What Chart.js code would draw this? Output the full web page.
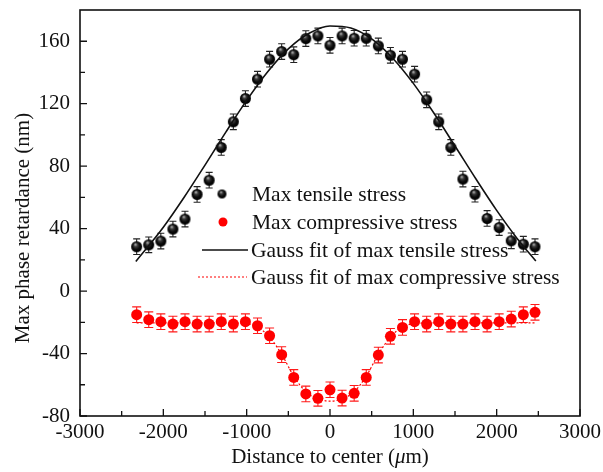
<!DOCTYPE html>
<html><head><meta charset="utf-8">
<script src="https://cdn.jsdelivr.net/npm/chart.js@4"></script>
<style>html,body{margin:0;padding:0;background:#fff}#wrap{width:603px;height:472px}</style>
</head><body><div id="wrap"><canvas id="c" width="603" height="472"></canvas></div>
<script>
// ---- data ----
const xPos = [-2320,-2175,-2030,-1885,-1740,-1595,-1450,-1305,-1160,-1015,-870,-725,-580,-435,-290,-145,0,145,290,435,580,725,870,1015,1160,1305,1450,1595,1740,1885,2030,2175,2320,2460];
const tensile = [28.4,29.6,32.0,39.7,46.1,61.9,71.0,92.0,108.4,123.3,135.7,148.5,153.4,151.4,161.7,163.4,157.4,163.4,161.9,161.9,157.0,151.0,148.5,138.9,122.5,108.4,92.0,71.7,62.0,46.5,40.7,32.2,30.0,28.4];
const compressive = [-15.1,-18.3,-19.6,-21.1,-19.6,-21.1,-21.1,-19.6,-21.1,-19.6,-22.2,-28.6,-40.7,-55.3,-65.9,-68.7,-63.2,-68.5,-65.5,-55.3,-41.0,-29.0,-23.3,-19.6,-21.1,-19.6,-21.1,-21.1,-19.6,-21.1,-19.6,-17.9,-15.1,-13.6];
const errTensile = [5,5,5,5,5,5,5,5,5,5,5,5,5,5,5,5,5,5,5,5,5,5,5,5,5,5,5,5,5,5,5,5,5,5];
const errCompressive = [5,5,5,5,5,5,5,5,5,5,5,5,5,5,5,5,5,5,5,5,5,5,5,5,5,5,5,5,5,5,5,5,5,5];
const fitTensileX = [-2330,-2000,-1750,-1500,-1250,-1000,-750,-500,-250,0,250,500,750,1000,1250,1500,1750,2000,2250,2470];
const fitTensileY = [19.0,40.9,60.1,80.7,101.8,122.1,140.3,155.1,165.1,169.8,168.5,161.5,149.3,133.0,113.7,92.9,71.9,51.7,33.4,19.2];
const fitCompX = xPos;
const fitCompY = [-20.3,-20.3,-20.3,-20.3,-20.3,-20.3,-20.3,-20.3,-20.4,-20.8,-23,-29.5,-40.5,-54.5,-64.5,-69,-70.5,-69,-64.5,-54.5,-40.5,-29.5,-23,-20.8,-20.4,-20.3,-20.3,-20.3,-20.3,-20.3,-20.3,-20.3,-20.3,-20.3];
const xTicks = [-3000,-2000,-1000,0,1000,2000,3000];
const xMinorTicks = [-2500,-1500,-500,500,1500,2500];
const yTicks = [-80,-40,0,40,80,120,160];
const yMinorTicks = [-60,-20,20,60,100,140];
const seriesNames = ['Max tensile stress','Max compressive stress','Gauss fit of max tensile stress','Gauss fit of max compressive stress'];
const xTitle = ['Distance to center (', '\u03BC', 'm)'];
const yTitle = 'Max phase retardance (nm)';

const FONT = '"Liberation Serif","Times New Roman",serif';
const TXT = '#111';

function sphere(r){
  const s = Math.ceil(r*2+2);
  const c = document.createElement('canvas'); c.width = s; c.height = s;
  const g = c.getContext('2d'); const cx = s/2, cy = s/2;
  const grad = g.createRadialGradient(cx-r*0.25, cy-r*0.45, r*0.05, cx, cy, r);
  grad.addColorStop(0,'#b8b8b8'); grad.addColorStop(0.3,'#3a3a3a'); grad.addColorStop(0.65,'#0a0a0a'); grad.addColorStop(1,'#000');
  g.fillStyle = grad; g.beginPath(); g.arc(cx,cy,r,0,Math.PI*2); g.fill();
  return c;
}
const ballBig = sphere(5.5);
const ballSmall = sphere(4.5);

const pts = (xs, ys) => xs.map((x,i)=>({x, y: ys[i]}));

const errorBars = {
  id: 'errorBars',
  beforeDatasetsDraw(chart){
    const {ctx, scales:{x, y}} = chart;
    const draw = (ys, errs, color, cap) => {
      ctx.save(); ctx.strokeStyle = color; ctx.lineWidth = 1.1;
      ys.forEach((v,i)=>{
        const px = x.getPixelForValue(xPos[i]);
        const top = y.getPixelForValue(v + errs[i]);
        const bot = y.getPixelForValue(v - errs[i]);
        ctx.beginPath();
        ctx.moveTo(px, top); ctx.lineTo(px, bot);
        ctx.moveTo(px-cap, top); ctx.lineTo(px+cap, top);
        ctx.moveTo(px-cap, bot); ctx.lineTo(px+cap, bot);
        ctx.stroke();
      });
      ctx.restore();
    };
    draw(tensile, errTensile, '#222', 3.5);
    draw(compressive, errCompressive, '#ff1a1a', 4.5);
  }
};

const legendPlugin = {
  id: 'customLegend',
  beforeDatasetsDraw(chart){
    const ctx = chart.ctx;
    ctx.save();
    ctx.font = '21.5px ' + FONT; ctx.fillStyle = TXT; ctx.textBaseline = 'middle'; ctx.textAlign = 'left';
    const rows = [194, 222, 250, 277];
    ctx.drawImage(ballSmall, 222 - ballSmall.width/2, rows[0] - ballSmall.height/2);
    ctx.fillStyle = '#ff0000'; ctx.beginPath(); ctx.arc(223, rows[1], 4.5, 0, Math.PI*2); ctx.fill();
    ctx.strokeStyle = '#111'; ctx.lineWidth = 1.6; ctx.beginPath(); ctx.moveTo(202, rows[2]); ctx.lineTo(248, rows[2]); ctx.stroke();
    ctx.strokeStyle = '#ff0000'; ctx.lineWidth = 1.2; ctx.setLineDash([2,2]); ctx.beginPath(); ctx.moveTo(198, rows[3]); ctx.lineTo(247, rows[3]); ctx.stroke();
    ctx.setLineDash([]);
    ctx.fillStyle = TXT;
    seriesNames.forEach((t,i)=> ctx.fillText(t, i < 2 ? 252 : 251, rows[i] + 1));
    ctx.restore();
  }
};

const framePlugin = {
  id: 'frame',
  afterDraw(chart){
    const {ctx, chartArea:a, scales:{x, y}} = chart;
    ctx.save();
    ctx.strokeStyle = '#111'; ctx.lineWidth = 1.6;
    ctx.strokeRect(a.left, a.top, a.right - a.left, a.bottom - a.top);
    ctx.lineWidth = 1.3;
    ctx.beginPath();
    xTicks.forEach(v=>{ const p = x.getPixelForValue(v); ctx.moveTo(p, a.bottom); ctx.lineTo(p, a.bottom - 7); });
    xMinorTicks.forEach(v=>{ const p = x.getPixelForValue(v); ctx.moveTo(p, a.bottom); ctx.lineTo(p, a.bottom - 5); });
    yTicks.forEach(v=>{ const p = y.getPixelForValue(v); ctx.moveTo(a.left, p); ctx.lineTo(a.left + 7, p); });
    yMinorTicks.forEach(v=>{ const p = y.getPixelForValue(v); ctx.moveTo(a.left, p); ctx.lineTo(a.left + 5, p); });
    ctx.stroke();
    // axis titles
    ctx.fillStyle = TXT; ctx.textBaseline = 'middle';
    const f = '21px ' + FONT, fi = 'italic 21px ' + FONT;
    ctx.font = f; const w0 = ctx.measureText(xTitle[0]).width, w2 = ctx.measureText(xTitle[2]).width;
    ctx.font = fi; const w1 = ctx.measureText(xTitle[1]).width;
    let sx = (a.left + a.right)/2 - (w0 + w1 + w2)/2; const ty = 457;
    ctx.textAlign = 'left';
    ctx.font = f; ctx.fillText(xTitle[0], sx, ty); sx += w0;
    ctx.font = fi; ctx.fillText(xTitle[1], sx, ty); sx += w1;
    ctx.font = f; ctx.fillText(xTitle[2], sx, ty);
    ctx.translate(23, 228); ctx.rotate(-Math.PI/2);
    ctx.textAlign = 'center'; ctx.font = f; ctx.fillText(yTitle, 0, 0);
    ctx.restore();
  }
};

new Chart(document.getElementById('c'), {
  type: 'scatter',
  data: {
    datasets: [
      { label: seriesNames[2], data: pts(fitTensileX, fitTensileY), showLine: true, borderColor: '#111', borderWidth: 1.6, pointRadius: 0, tension: 0.4, cubicInterpolationMode: 'monotone', order: 0 },
      { label: seriesNames[3], data: pts(fitCompX, fitCompY), showLine: true, borderColor: '#ff0000', borderWidth: 1.2, borderDash: [2,2], pointRadius: 0, cubicInterpolationMode: 'monotone', order: 0 },
      { label: seriesNames[0], data: pts(xPos, tensile), showLine: false, pointStyle: ballBig, pointRadius: 5.5, order: 1 },
      { label: seriesNames[1], data: pts(xPos, compressive), showLine: false, pointStyle: 'circle', pointRadius: 5.5, backgroundColor: '#ff0000', borderColor: '#ff0000', borderWidth: 0, order: 1 }
    ]
  },
  options: {
    responsive: false, animation: false, devicePixelRatio: 1,
    layout: { padding: { top: 10, right: 23, left: 0, bottom: 0 } },
    plugins: { legend: { display: false }, tooltip: { enabled: false } },
    scales: {
      x: {
        type: 'linear', min: -3000, max: 3000,
        grid: { display: false, drawTicks: false }, border: { display: false },
        afterBuildTicks: s => { s.ticks = xTicks.map(v=>({value: v})); },
        afterFit: s => { s.height = 56; s.paddingLeft = 0; s.paddingRight = 0; },
        ticks: { font: { family: FONT, size: 21 }, color: TXT, padding: 4, maxRotation: 0, autoSkip: false, callback: v => String(v) }
      },
      y: {
        type: 'linear', min: -80, max: 180,
        grid: { display: false, drawTicks: false }, border: { display: false },
        afterBuildTicks: s => { s.ticks = yTicks.map(v=>({value: v})); },
        afterFit: s => { s.width = 80; s.paddingTop = 0; s.paddingBottom = 0; },
        ticks: { font: { family: FONT, size: 21 }, color: TXT, padding: 10, autoSkip: false, callback: v => String(v) }
      }
    }
  },
  plugins: [errorBars, legendPlugin, framePlugin]
});
</script>
</body></html>
